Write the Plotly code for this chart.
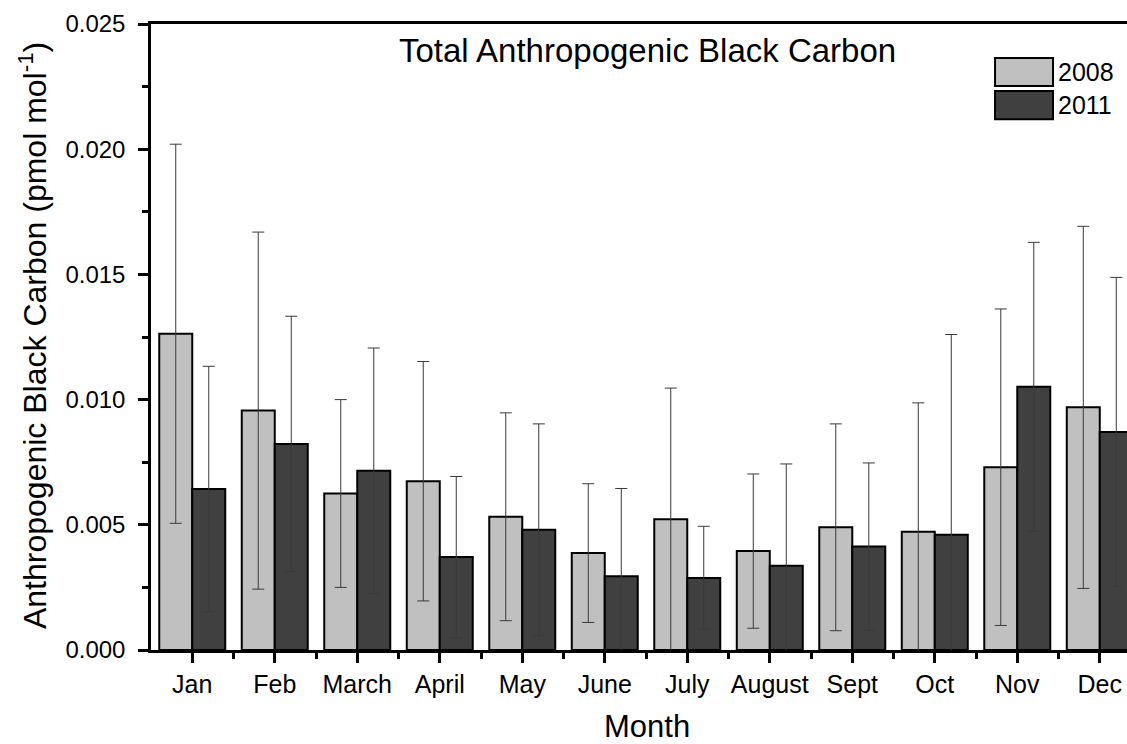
import plotly.graph_objects as go

# Monthly anthropogenic black carbon (pmol mol^-1), mean and spread
months = ["Jan", "Feb", "March", "April", "May", "June",
          "July", "August", "Sept", "Oct", "Nov", "Dec"]
bc_2008 = [0.01263, 0.00956, 0.00625, 0.00674, 0.00532, 0.00387,
           0.00522, 0.00395, 0.00490, 0.00472, 0.00730, 0.00969]
err_2008 = [0.00757, 0.00713, 0.00375, 0.00478, 0.00415, 0.00277,
            0.00524, 0.00308, 0.00413, 0.00515, 0.00632, 0.00723]
bc_2011 = [0.00643, 0.00823, 0.00716, 0.00371, 0.00480, 0.00295,
           0.00288, 0.00336, 0.00413, 0.00460, 0.01051, 0.00871]
err_2011 = [0.00490, 0.00510, 0.00490, 0.00322, 0.00423, 0.00350,
            0.00206, 0.00407, 0.00334, 0.00800, 0.00577, 0.00617]
years = ["2008", "2011"]
y_ticks = [0.0, 0.005, 0.010, 0.015, 0.020, 0.025]

FONT = "Arial, 'Liberation Sans', sans-serif"
fills = ["#c0c0c0", "#404040"]
x_pos = list(range(len(months)))

fig = go.Figure()
for name, vals, errs, fill in zip(years, [bc_2008, bc_2011], [err_2008, err_2011], fills):
    fig.add_trace(go.Bar(
        x=x_pos, y=vals, name=name,
        marker=dict(color=fill, line=dict(color="black", width=2)),
        error_y=dict(type="data", array=errs, visible=True,
                     color="#3a3a3a", thickness=1, width=6),
        showlegend=False,
    ))

fig.update_layout(
    width=1127, height=744,
    margin=dict(l=151, r=0, t=24, b=94),
    paper_bgcolor="white", plot_bgcolor="white",
    barmode="group", bargap=0.2, bargroupgap=0,
    font=dict(family=FONT, color="black"),
)

fig.update_xaxes(
    range=[-0.5, 11.33],
    tickmode="array", tickvals=x_pos, ticktext=months,
    tickfont=dict(size=25, family=FONT),
    ticks="outside", ticklen=10, tickwidth=2.5, tickcolor="black",
    minor=dict(tickmode="array", tickvals=[i + 0.5 for i in range(len(months) - 1)],
               ticks="outside", ticklen=6, tickwidth=2.5, tickcolor="black"),
    showline=True, linewidth=2.5, linecolor="black", mirror=True,
    showgrid=False, zeroline=False,
)

fig.update_yaxes(
    range=[0, 0.025],
    tickmode="array", tickvals=y_ticks, tickformat=".3f",
    tickfont=dict(size=24, family=FONT),
    ticks="outside", ticklen=10, tickwidth=2.5, tickcolor="black",
    ticklabelstandoff=8,
    minor=dict(dtick=0.0025, ticks="outside", ticklen=6, tickwidth=2.5, tickcolor="black"),
    showline=True, linewidth=2.5, linecolor="black",
    showgrid=False, zeroline=False,
)

# Titles
fig.add_annotation(text="Total Anthropogenic Black Carbon", xref="paper", yref="paper",
                   x=0.509, y=0.958, xanchor="center", yanchor="middle",
                   showarrow=False, font=dict(size=33, family=FONT))
fig.add_annotation(text="Month", xref="paper", yref="paper",
                   x=0.508, y=-0.122, xanchor="center", yanchor="middle",
                   showarrow=False, font=dict(size=31, family=FONT))
fig.add_annotation(text="Anthropogenic Black Carbon (pmol mol<sup>-1</sup>)",
                   xref="paper", yref="paper", textangle=-90,
                   x=-0.121, y=0.503, xanchor="center", yanchor="middle",
                   showarrow=False, font=dict(size=32, family=FONT))

# Legend boxes
legend_rows = [(0.9457, 0.901), (0.893, 0.848)]
for name, fill, (y0, y1) in zip(years, fills, legend_rows):
    fig.add_shape(type="rect", xref="paper", yref="paper",
                  x0=0.8648, x1=0.9242, y0=y1, y1=y0,
                  fillcolor=fill, line=dict(color="black", width=2))
    fig.add_annotation(text=name, xref="paper", yref="paper",
                       x=0.927, y=(y0 + y1) / 2, xanchor="left", yanchor="middle",
                       showarrow=False, font=dict(size=25, family=FONT))

fig.write_html("out.html")
